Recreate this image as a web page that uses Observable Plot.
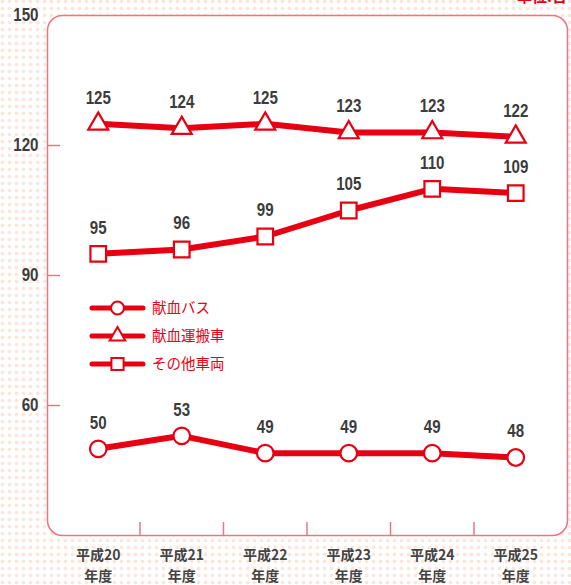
<!DOCTYPE html>
<html><head><meta charset="utf-8">
<script src="https://cdn.jsdelivr.net/npm/d3@7"></script>
<script src="https://cdn.jsdelivr.net/npm/@observablehq/plot@0.6"></script>
<style>
html,body{margin:0;padding:0;}
body{width:571px;height:585px;overflow:hidden;background-color:#fff;
 background-image:radial-gradient(circle, #fde6dc 1.7px, transparent 2.2px);
 background-size:7px 7px;background-position:-1px -2px;}
#wrap{position:relative;width:571px;height:585px;}
#unit{position:absolute;right:4px;top:-15px;color:#e60012;font:bold 15px "Noto Sans CJK JP";}
#legend{position:absolute;left:0;top:0;pointer-events:none;}
</style></head><body><div id="wrap"><div id="chart"></div><svg id="legend" width="571" height="585"></svg><div id="unit">単位:台</div></div>
<script>
// ---- data ----
const years = ["20", "21", "22", "23", "24", "25"];
const seriesNames = ["献血バス", "献血運搬車", "その他車両"];
const busValues = [50, 53, 49, 49, 49, 48];
const transportValues = [125, 124, 125, 123, 123, 122];
const otherValues = [95, 96, 99, 105, 110, 109];
const yTicks = [60, 90, 120, 150];
const yDomain = [30, 150];

// ---- styling ----
const W = 571, H = 585, mL = 47, mR = 4, mT = 15, mB = 50;
const red = "#e60012";
const frameColor = "#f07480";
const numFont = "'Liberation Sans', Arial, sans-serif";
const cjkFont = "'Noto Sans CJK JP', sans-serif";
const seriesList = [
  {name: seriesNames[0], values: busValues, symbol: "circle", r: 8.3},
  {name: seriesNames[1], values: transportValues, symbol: "triangle", r: 7.4},
  {name: seriesNames[2], values: otherValues, symbol: "square", r: 8.8}
];
const rows = seriesList.flatMap(s => s.values.map((v, i) => ({i, v, s: s.name})));
const boundaries = years.slice(1).map((_, k) => k + 0.5);

const chart = Plot.plot({
  width: W, height: H,
  marginLeft: mL, marginRight: mR, marginTop: mT, marginBottom: mB,
  style: {background: "transparent", overflow: "visible"},
  x: {type: "linear", domain: [-0.5, years.length - 0.5], insetLeft: 9, insetRight: 10, axis: null},
  y: {domain: yDomain, axis: null},
  marks: [
    Plot.frame({fill: "white", stroke: frameColor, strokeWidth: 1.5, rx: 15}),
    Plot.tickY(yTicks.slice(0, -1), {y: d => d, stroke: frameColor, strokeWidth: 1.5, insetRight: W - mL - mR - 13}),
    Plot.tickX(boundaries, {x: d => d, stroke: frameColor, strokeWidth: 1.5, insetTop: H - mT - mB - 13}),
    Plot.line(rows, {x: "i", y: "v", z: "s", stroke: red, strokeWidth: 6}),
    ...seriesList.map(s => Plot.dot(s.values, {x: (d, i) => i, y: d => d, symbol: s.symbol, r: s.r,
      fill: "white", stroke: red, strokeWidth: 2.2})),
    Plot.text(rows, {x: "i", y: "v", text: d => String(d.v), dy: -26, fill: "#3c3c3c",
      fontFamily: numFont, fontWeight: "bold", fontSize: 18, className: "narrow"}),
    Plot.text(yTicks, {y: d => d, frameAnchor: "left", dx: -9, textAnchor: "end", text: d => String(d),
      fill: "#3c3c3c", fontFamily: numFont, fontWeight: "bold", fontSize: 18, className: "narrow"}),
    Plot.text(years, {x: (d, i) => i, frameAnchor: "bottom", dy: 45, text: d => `平成${d}\n年度`,
      lineHeight: 1.5, fill: "#444", fontFamily: cjkFont, fontWeight: "bold", fontSize: 14})
  ]
});
document.getElementById("chart").append(chart);
// condense the number glyphs (reference uses a condensed face)
chart.querySelectorAll(".narrow text").forEach(t => {
  const len = t.getComputedTextLength();
  t.setAttribute("textLength", (len * 0.84).toFixed(1));
  t.setAttribute("lengthAdjust", "spacingAndGlyphs");
});

// ---- legend ----
const lg = d3.select("#legend");
const legendX0 = 92, legendX1 = 143, legendY0 = 308, legendStep = 28;
seriesList.forEach((s, k) => {
  const y = legendY0 + k * legendStep;
  const g = lg.append("g");
  g.append("line").attr("x1", legendX0).attr("x2", legendX1).attr("y1", y).attr("y2", y)
    .attr("stroke", red).attr("stroke-width", 5).attr("stroke-linecap", "round");
  const sym = {circle: d3.symbolCircle, triangle: d3.symbolTriangle, square: d3.symbolSquare}[s.symbol];
  const rr = s.r * 0.78;
  g.append("path").attr("d", d3.symbol(sym, rr * rr * Math.PI)())
    .attr("transform", `translate(${(legendX0 + legendX1) / 2},${y})`)
    .attr("fill", "white").attr("stroke", red).attr("stroke-width", 2);
  g.append("text").attr("x", 152).attr("y", y).attr("dy", "0.35em").attr("fill", red)
    .attr("font-family", cjkFont).attr("font-size", 14.5).text(s.name);
});
</script>
</body></html>
